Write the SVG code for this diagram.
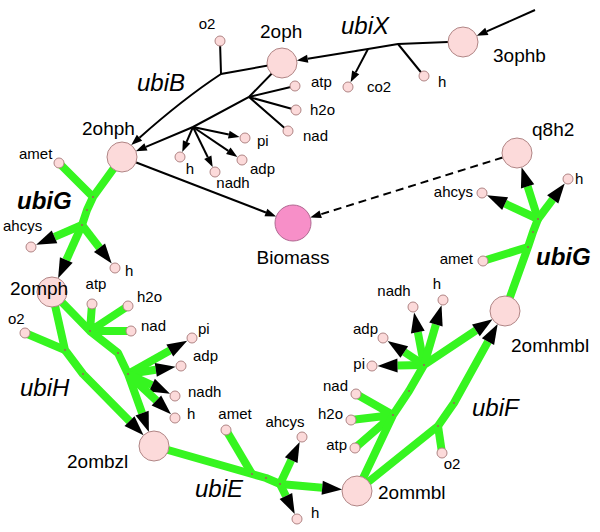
<svg xmlns="http://www.w3.org/2000/svg" width="600" height="532" viewBox="0 0 600 532">
<style>
text{font-family:"Liberation Sans",Arial,sans-serif;fill:#000}
.s{font-size:15px}
.l{font-size:19px}
.r{font-size:24px;font-style:italic}
.b{font-weight:bold}
.big{fill:#fcdada;stroke:#b08585;stroke-width:1}
.sm{fill:#fcdada;stroke:#b08585;stroke-width:1}
.bio{fill:#f78fc8;stroke:#b06a92;stroke-width:1}
.k{fill:none;stroke:#000;stroke-width:2}
.ka{fill:none;stroke:#000;stroke-width:2;marker-end:url(#ak)}
.kd{fill:none;stroke:#000;stroke-width:2;stroke-dasharray:8,5;marker-end:url(#ak)}
.g{fill:none;stroke:#36f520;stroke-width:8;stroke-linejoin:round}
.ga{fill:none;stroke:#36f520;stroke-width:8;stroke-linejoin:round;marker-end:url(#ag)}
.d{fill:#a05a5a}
</style>
<defs>
<marker id="ak" markerUnits="userSpaceOnUse" markerWidth="11" markerHeight="8" refX="0" refY="4" orient="auto" overflow="visible"><path d="M0,0 L11,4 L0,8 z" fill="#000"/></marker>
<marker id="ag" markerUnits="userSpaceOnUse" markerWidth="20" markerHeight="14" refX="0" refY="7" orient="auto" overflow="visible"><path d="M0,0 L20,7 L0,14 z" fill="#000"/></marker>
</defs>
<g id="connectors">
<path class="ka" d="M535,10 L486.8,31.4"/>
<path class="ka" d="M448,42 L398,44 L368,49 L307.7,58.8"/>
<path class="k" d="M398,44 L424,76"/>
<path class="ka" d="M368,49 L355.7,72.4"/>
<path class="ka" d="M282,63 L221,74 Q183,99 139.5,137.7"/>
<path class="k" d="M220,41 L221,74"/>
<path class="ka" d="M282,63 L249,97 L193,127 L145.9,146.9"/>
<path class="k" d="M249,97 L295,86 M249,97 L296,110 M249,97 L288,131"/>
<path class="ka" d="M193,127 L228.8,134.6"/>
<path class="ka" d="M193,127 L228.3,150.8"/>
<path class="ka" d="M193,127 L207.8,157.2"/>
<path class="ka" d="M193,127 L186.6,141.9"/>
<path class="ka" d="M122,157 L265.9,212.5"/>
<path class="kd" d="M502.7,157.5 L320.7,214.3"/>
<path class="g" d="M122,157 L93,197 L87,210 L82,225 M59,163 L93,197"/>
<path class="ga" d="M82,225 L54.5,236.9"/>
<path class="ga" d="M82,225 L99.5,247.7"/>
<path class="ga" d="M82,225 L66.3,260"/>
<path class="g" d="M25,333 L65,350"/>
<path class="ga" d="M52,292 L65,350 L83,374 L129.5,421.1"/>
<path class="g" d="M92,304 L90,331 M128,306 L90,331 M131,331 L90,331"/>
<path class="ga" d="M52,292 L90,331 L118,353 L128,374 L142.1,413.1"/>
<path class="ga" d="M128,374 L169.8,350.5"/>
<path class="ga" d="M128,374 L155.8,369.8"/>
<path class="ga" d="M128,374 L151.9,385.2"/>
<path class="ga" d="M128,374 L156.4,400.5"/>
<path class="g" d="M226,430 L252,474"/>
<path class="ga" d="M154,446 L252,474 L266,478 L280,484 L322.2,487.8"/>
<path class="ga" d="M280,484 L291.2,460.1"/>
<path class="ga" d="M280,484 L285.9,496"/>
<path class="g" d="M356,394 L393,415 M351,420 L393,415 M355,448 L393,415"/>
<path class="ga" d="M357,491 L393,415 L409,391 L424,365 L475.9,330.4"/>
<path class="ga" d="M424,365 L397.5,365.5"/>
<path class="ga" d="M424,365 L404.3,352"/>
<path class="ga" d="M424,365 L417.8,332.1"/>
<path class="ga" d="M424,365 L435.9,324.5"/>
<path class="g" d="M442,453 L438,426"/>
<path class="ga" d="M357,491 L438,426 L454,403 L488,341.6"/>
<path class="g" d="M483,261 L528,247"/>
<path class="ga" d="M505,311 L528,247 L533,232 L538,219 L527.6,186.3"/>
<path class="ga" d="M538,219 L505.1,203.7"/>
<path class="ga" d="M538,219 L552.7,199.4"/>
<g class="d">
<circle cx="93" cy="197" r="1"/><circle cx="87" cy="210" r="1"/><circle cx="82" cy="225" r="1"/>
<circle cx="65" cy="350" r="1"/><circle cx="83" cy="374" r="1"/>
<circle cx="90" cy="331" r="1"/><circle cx="118" cy="353" r="1"/><circle cx="128" cy="374" r="1"/>
<circle cx="252" cy="474" r="1"/><circle cx="266" cy="478" r="1"/><circle cx="280" cy="484" r="1"/>
<circle cx="393" cy="415" r="1"/><circle cx="409" cy="391" r="1"/><circle cx="424" cy="365" r="1"/>
<circle cx="438" cy="426" r="1"/><circle cx="454" cy="403" r="1"/>
<circle cx="528" cy="247" r="1"/><circle cx="533" cy="232" r="1"/><circle cx="538" cy="219" r="1"/>
</g>
</g>
<g id="n-2oph"><circle class="big" cx="282" cy="63" r="15"/><text class="l" x="260" y="38">2oph</text></g>
<g id="n-3ophb"><circle class="big" cx="463" cy="42" r="15"/><text class="l" x="493" y="62">3ophb</text></g>
<g id="n-2ohph"><circle class="big" cx="122" cy="157" r="15"/><text class="l" x="82" y="135">2ohph</text></g>
<g id="n-q8h2"><circle class="big" cx="517" cy="153" r="15"/><text class="l" x="532" y="136">q8h2</text></g>
<g id="n-biomass"><circle class="bio" cx="293" cy="223" r="18"/><text class="l" x="293" y="264" text-anchor="middle">Biomass</text></g>
<g id="n-2omph"><circle class="big" cx="52" cy="292" r="15"/><text class="l" x="10" y="295">2omph</text></g>
<g id="n-2ombzl"><circle class="big" cx="154" cy="446" r="15"/><text class="l" x="67" y="468">2ombzl</text></g>
<g id="n-2ommbl"><circle class="big" cx="357" cy="491" r="15"/><text class="l" x="378" y="499">2ommbl</text></g>
<g id="n-2omhmbl"><circle class="big" cx="505" cy="311" r="15"/><text class="l" x="511" y="352">2omhmbl</text></g>
<g id="n-co2"><circle class="sm" cx="348" cy="87" r="5"/><text class="s" x="367" y="92">co2</text></g>
<g id="n-h-x"><circle class="sm" cx="424" cy="76" r="5"/><text class="s" x="438" y="87">h</text></g>
<g id="n-o2-b"><circle class="sm" cx="220" cy="41" r="5"/><text class="s" x="207" y="29" text-anchor="middle">o2</text></g>
<g id="n-atp-t"><circle class="sm" cx="295" cy="86" r="5"/><text class="s" x="311" y="87">atp</text></g>
<g id="n-h2o-t"><circle class="sm" cx="296" cy="110" r="5"/><text class="s" x="310" y="115">h2o</text></g>
<g id="n-nad-t"><circle class="sm" cx="288" cy="131" r="5"/><text class="s" x="303" y="141">nad</text></g>
<g id="n-pi-t"><circle class="sm" cx="245" cy="138" r="5"/><text class="s" x="257" y="146">pi</text></g>
<g id="n-adp-t"><circle class="sm" cx="242" cy="160" r="5"/><text class="s" x="250" y="174">adp</text></g>
<g id="n-nadh-t"><circle class="sm" cx="215" cy="172" r="5"/><text class="s" x="233" y="188" text-anchor="middle">nadh</text></g>
<g id="n-h-t"><circle class="sm" cx="180" cy="157" r="5"/><text class="s" x="190" y="174" text-anchor="middle">h</text></g>
<g id="n-amet-l"><circle class="sm" cx="59" cy="163" r="5"/><text class="s" x="19" y="159">amet</text></g>
<g id="n-ahcys-l"><circle class="sm" cx="31" cy="247" r="5"/><text class="s" x="3" y="231">ahcys</text></g>
<g id="n-h-l"><circle class="sm" cx="115" cy="268" r="5"/><text class="s" x="125" y="276">h</text></g>
<g id="n-o2-h"><circle class="sm" cx="25" cy="333" r="5"/><text class="s" x="8" y="324">o2</text></g>
<g id="n-atp-h"><circle class="sm" cx="92" cy="304" r="5"/><text class="s" x="96" y="289" text-anchor="middle">atp</text></g>
<g id="n-h2o-h"><circle class="sm" cx="128" cy="306" r="5"/><text class="s" x="137" y="302">h2o</text></g>
<g id="n-nad-h"><circle class="sm" cx="131" cy="331" r="5"/><text class="s" x="141" y="331">nad</text></g>
<g id="n-pi-h"><circle class="sm" cx="192" cy="338" r="5"/><text class="s" x="198" y="334">pi</text></g>
<g id="n-adp-h"><circle class="sm" cx="181" cy="366" r="5"/><text class="s" x="193" y="361">adp</text></g>
<g id="n-nadh-h"><circle class="sm" cx="175" cy="396" r="5"/><text class="s" x="188" y="397">nadh</text></g>
<g id="n-h-h"><circle class="sm" cx="175" cy="418" r="5"/><text class="s" x="187" y="419">h</text></g>
<g id="n-amet-e"><circle class="sm" cx="226" cy="430" r="5"/><text class="s" x="235" y="419" text-anchor="middle">amet</text></g>
<g id="n-ahcys-e"><circle class="sm" cx="302" cy="437" r="5"/><text class="s" x="285" y="427" text-anchor="middle">ahcys</text></g>
<g id="n-h-e"><circle class="sm" cx="297" cy="519" r="5"/><text class="s" x="311" y="518">h</text></g>
<g id="n-nad-f"><circle class="sm" cx="356" cy="394" r="5"/><text class="s" x="348" y="391" text-anchor="end">nad</text></g>
<g id="n-h2o-f"><circle class="sm" cx="351" cy="420" r="5"/><text class="s" x="343" y="419" text-anchor="end">h2o</text></g>
<g id="n-atp-f"><circle class="sm" cx="355" cy="448" r="5"/><text class="s" x="347" y="450" text-anchor="end">atp</text></g>
<g id="n-pi-f"><circle class="sm" cx="372" cy="366" r="5"/><text class="s" x="365" y="369" text-anchor="end">pi</text></g>
<g id="n-adp-f"><circle class="sm" cx="383" cy="338" r="5"/><text class="s" x="378" y="334" text-anchor="end">adp</text></g>
<g id="n-nadh-f"><circle class="sm" cx="413" cy="307" r="5"/><text class="s" x="394" y="296" text-anchor="middle">nadh</text></g>
<g id="n-h-f"><circle class="sm" cx="443" cy="300" r="5"/><text class="s" x="437" y="289" text-anchor="middle">h</text></g>
<g id="n-o2-f"><circle class="sm" cx="442" cy="453" r="5"/><text class="s" x="452" y="469" text-anchor="middle">o2</text></g>
<g id="n-ahcys-r"><circle class="sm" cx="482" cy="193" r="5"/><text class="s" x="473" y="197" text-anchor="end">ahcys</text></g>
<g id="n-amet-r"><circle class="sm" cx="483" cy="261" r="5"/><text class="s" x="473" y="264" text-anchor="end">amet</text></g>
<g id="n-h-r"><circle class="sm" cx="568" cy="179" r="5"/><text class="s" x="575" y="184">h</text></g>
<g id="labels">
<text class="r" x="341" y="34">ubiX</text>
<text class="r" x="137" y="91">ubiB</text>
<text class="r b" x="17" y="209">ubiG</text>
<text class="r b" x="536" y="265">ubiG</text>
<text class="r" x="20" y="396">ubiH</text>
<text class="r" x="195" y="497">ubiE</text>
<text class="r" x="472" y="416">ubiF</text>
</g>
</svg>
